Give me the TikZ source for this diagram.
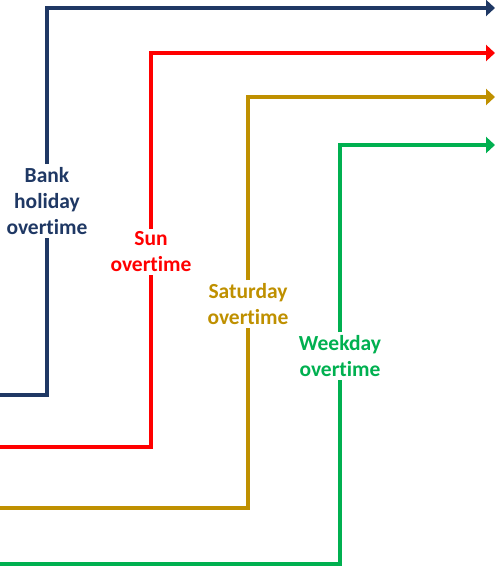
\documentclass[tikz,border=0pt]{standalone}
\usepackage{fontspec}
\setmainfont[Ligatures=NoCommon]{Carlito}
\usetikzlibrary{arrows.meta}
\definecolor{bank}{RGB}{31,56,100}
\definecolor{sun}{RGB}{255,0,0}
\definecolor{sat}{RGB}{191,144,0}
\definecolor{wkd}{RGB}{0,176,80}
\begin{document}
\begin{tikzpicture}[x=1pt,y=-1pt,
  lbl/.style={font=\fontsize{21.5}{26}\selectfont\bfseries,align=center,inner sep=3pt,text=#1},
  ln/.style={draw=#1,line width=3.2pt},
  arr/.style={-{Triangle[length=9pt,width=16pt]}}]
\useasboundingbox (0,0) rectangle (495,567);
% bank holiday
\coordinate (b0) at (0,395);
\coordinate (b1) at (495,8);
\node[lbl=bank] (bl) at (47,201) {Bank\\holiday\\overtime};
\draw[ln=bank] (b0) -| (bl.south);
\draw[ln=bank,arr] (bl.north) |- (b1);
% sunday
\coordinate (s0) at (0,447);
\coordinate (s1) at (495,53);
\node[lbl=sun] (sl) at (151,252) {Sun\\overtime};
\draw[ln=sun] (s0) -| (sl.south);
\draw[ln=sun,arr] (sl.north) |- (s1);
% saturday
\coordinate (a0) at (0,508);
\coordinate (a1) at (495,97);
\node[lbl=sat] (al) at (248,304) {Saturday\\overtime};
\draw[ln=sat] (a0) -| (al.south);
\draw[ln=sat,arr] (al.north) |- (a1);
% weekday
\coordinate (w0) at (0,564);
\coordinate (w1) at (495,145);
\node[lbl=wkd] (wl) at (340,356) {Weekday\\overtime};
\draw[ln=wkd] (w0) -| (wl.south);
\draw[ln=wkd,arr] (wl.north) |- (w1);
\end{tikzpicture}
\end{document}
